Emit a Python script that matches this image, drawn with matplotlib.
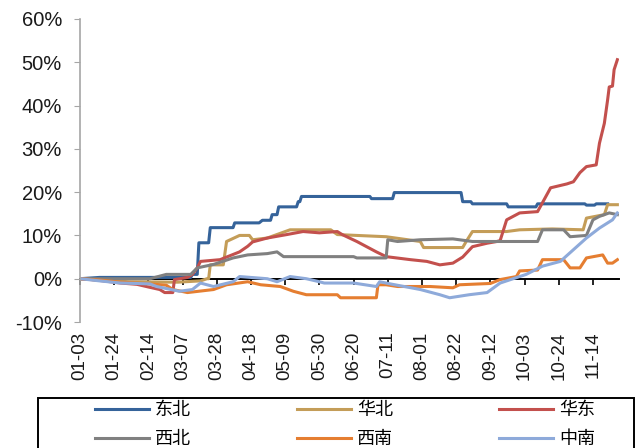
import matplotlib
matplotlib.use("Agg")
import matplotlib.pyplot as plt
from matplotlib.patches import Rectangle
from matplotlib.ticker import FuncFormatter

plt.rcParams["font.family"] = ["Liberation Sans", "Noto Sans CJK SC", "DejaVu Sans"]

# day offsets from 01-03, cumulative change in %
tick_days = [0, 21, 42, 63, 84, 105, 126, 147, 168, 189, 210, 231, 252, 273, 294, 315]
tick_labels = ["01-03", "01-24", "02-14", "03-07", "03-28", "04-18", "05-09", "05-30",
               "06-20", "07-11", "08-01", "08-22", "09-12", "10-03", "10-24", "11-14"]

dongbei_x = [0, 12, 68, 69, 72, 73, 79, 80, 94, 95, 110, 112, 117, 118, 121, 122, 133, 134,
             135, 136, 178, 179, 192, 193, 234, 235, 240, 241, 262, 263, 280, 281, 310, 311,
             316, 317, 324]
dongbei_y = [0, 0.3, 0.3, 1.0, 1.0, 8.3, 8.3, 11.8, 11.8, 12.9, 12.9, 13.5, 13.5, 14.8, 14.8,
             16.6, 16.6, 17.8, 17.8, 19.0, 19.0, 18.5, 18.5, 19.9, 19.9, 17.8, 17.8, 17.3,
             17.3, 16.6, 16.6, 17.3, 17.3, 17.0, 17.0, 17.3, 17.3]

huabei_x = [0, 12, 30, 60, 74, 78, 79, 80, 88, 90, 98, 104, 106, 115, 129, 154, 158, 188,
            209, 211, 229, 235, 237, 241, 262, 270, 290, 309, 311, 322, 324, 330]
huabei_y = [0, -0.3, -0.7, -0.8, -0.5, 0, 0, 3.2, 3.2, 8.6, 10.0, 10.0, 9.0, 9.4, 11.3, 11.3,
            10.2, 9.7, 8.6, 7.2, 7.2, 7.2, 8.5, 10.9, 10.9, 11.3, 11.5, 11.3, 14.0, 14.8,
            17.1, 17.1]

huadong_x = [0, 10, 25, 35, 43, 49, 52, 57, 58, 66, 69, 72, 74, 86, 98, 103, 106, 115, 127,
             137, 147, 158, 161, 170, 182, 188, 203, 213, 221, 229, 235, 241, 250, 256, 258,
             262, 270, 281, 289, 299, 303, 307, 311, 317, 319, 322, 324, 325, 327, 328, 330]
huadong_y = [0, -0.3, -1.0, -1.3, -2.0, -2.5, -3.2, -3.2, -0.2, 0.3, 1.0, 2.5, 4.0, 4.4, 6.2,
             7.5, 8.5, 9.4, 10.2, 10.9, 10.6, 10.9, 10.2, 8.6, 6.2, 5.1, 4.4, 4.0, 3.2, 3.6,
             5.0, 7.4, 8.2, 8.6, 8.8, 13.6, 15.2, 15.5, 21.0, 21.9, 22.4, 24.5, 25.9, 26.3,
             31.3, 35.9, 41.3, 44.3, 44.5, 48.3, 50.6]

xibei_x = [0, 43, 45, 53, 68, 72, 82, 94, 103, 115, 121, 125, 168, 170, 188, 189, 195, 209,
           229, 241, 281, 284, 297, 301, 311, 315, 319, 325, 330]
xibei_y = [0, 0, 0.2, 1.0, 1.0, 2.5, 3.3, 4.8, 5.5, 5.8, 6.2, 5.1, 5.1, 4.8, 4.8, 9.0, 8.6,
           9.0, 9.2, 8.6, 8.6, 11.3, 11.3, 9.7, 10.0, 13.6, 14.4, 15.2, 14.8]

xinan_x = [0, 12, 25, 43, 53, 57, 66, 82, 90, 103, 111, 123, 131, 139, 158, 160, 182, 183,
           188, 195, 215, 229, 233, 252, 258, 268, 270, 281, 284, 297, 301, 307, 311, 321,
           324, 327, 330]
xinan_y = [0, -0.3, -0.8, -1.2, -1.5, -2.5, -3.2, -2.5, -1.4, -0.7, -1.4, -1.8, -2.9, -3.7,
           -3.7, -4.4, -4.4, -1.4, -1.4, -1.8, -1.8, -2.1, -1.4, -1.1, -0.2, 0.5, 1.8, 2.0,
           4.4, 4.4, 2.5, 2.5, 4.8, 5.5, 3.6, 3.6, 4.4]

zhongnan_x = [0, 12, 25, 43, 47, 61, 69, 74, 82, 94, 98, 115, 121, 129, 139, 147, 150, 168,
              182, 184, 192, 209, 221, 227, 239, 250, 258, 266, 274, 284, 295, 303, 311, 319,
              327, 330]
zhongnan_y = [0, -0.5, -1.0, -1.2, -1.8, -2.9, -2.5, -1.0, -1.8, -0.7, 0.5, 0, -0.7, 0.5, 0,
              -0.7, -1.0, -1.0, -1.8, -0.7, -1.3, -2.5, -3.7, -4.4, -3.7, -3.2, -1.0, 0, 1.0,
              2.9, 4.0, 6.7, 9.4, 11.7, 13.6, 15.2]

series = [
    ("东北", dongbei_x, dongbei_y, "#35639A"),
    ("华北", huabei_x, huabei_y, "#C49D58"),
    ("华东", huadong_x, huadong_y, "#C3504D"),
    ("西北", xibei_x, xibei_y, "#808080"),
    ("西南", xinan_x, xinan_y, "#E57E31"),
    ("中南", zhongnan_x, zhongnan_y, "#8EAADA"),
]

fig = plt.figure(figsize=(6.42, 4.48), dpi=100)
ax = fig.add_axes([80 / 642, (448 - 322) / 448, (619 - 80) / 642, 303 / 448])

lines = {}
for name, xs, ys, color in series:
    lines[name], = ax.plot(xs, ys, color=color, lw=2.2, label=name, solid_joinstyle="round")

ax.set_xlim(0, 331)
ax.set_ylim(-10, 60)
ax.set_yticks(range(-10, 61, 10))
ax.yaxis.set_major_formatter(FuncFormatter(lambda v, p: f"{v:.0f}%"))
ax.tick_params(axis="y", direction="out", length=4, color="#A6A6A6", labelsize=14.5,
               labelcolor="#1A1A1A", pad=9)

for s in ["top", "right", "bottom"]:
    ax.spines[s].set_visible(False)
ax.spines["left"].set_color("#A6A6A6")
ax.spines["left"].set_linewidth(1.2)

# date labels sit under the plot, the tick marks sit on the zero line
ax.set_xticks(tick_days)
ax.set_xticklabels(tick_labels, rotation=90, fontsize=13.5, color="#1A1A1A")
ax.tick_params(axis="x", length=0, pad=7)

zero = ax.secondary_xaxis(1 / 7)
zero.set_xticks(tick_days)
zero.set_xticklabels([])
zero.tick_params(axis="x", direction="out", length=4, width=1.2, color="black")
zero.spines["bottom"].set_color("black")
zero.spines["bottom"].set_linewidth(1.4)

# legend: filled column by column, so order the handles to read row by row
order = ["东北", "西北", "华北", "西南", "华东", "中南"]
leg = fig.legend([lines[n] for n in order], order, loc="upper left", ncol=3,
                 bbox_to_anchor=(95 / 642, 1 - 401 / 448), frameon=False,
                 handlelength=3.0, handletextpad=0.3, columnspacing=5.9,
                 borderaxespad=0, borderpad=0, labelspacing=0.6,
                 prop={"family": ["Noto Sans CJK SC"], "size": 13})

fig.patches.append(Rectangle((38 / 642, -0.1), 596 / 642, 0.1 + (448 - 398) / 448,
                             transform=fig.transFigure, fill=False, edgecolor="black",
                             linewidth=1.4))

fig.savefig("out.png", dpi=100)
